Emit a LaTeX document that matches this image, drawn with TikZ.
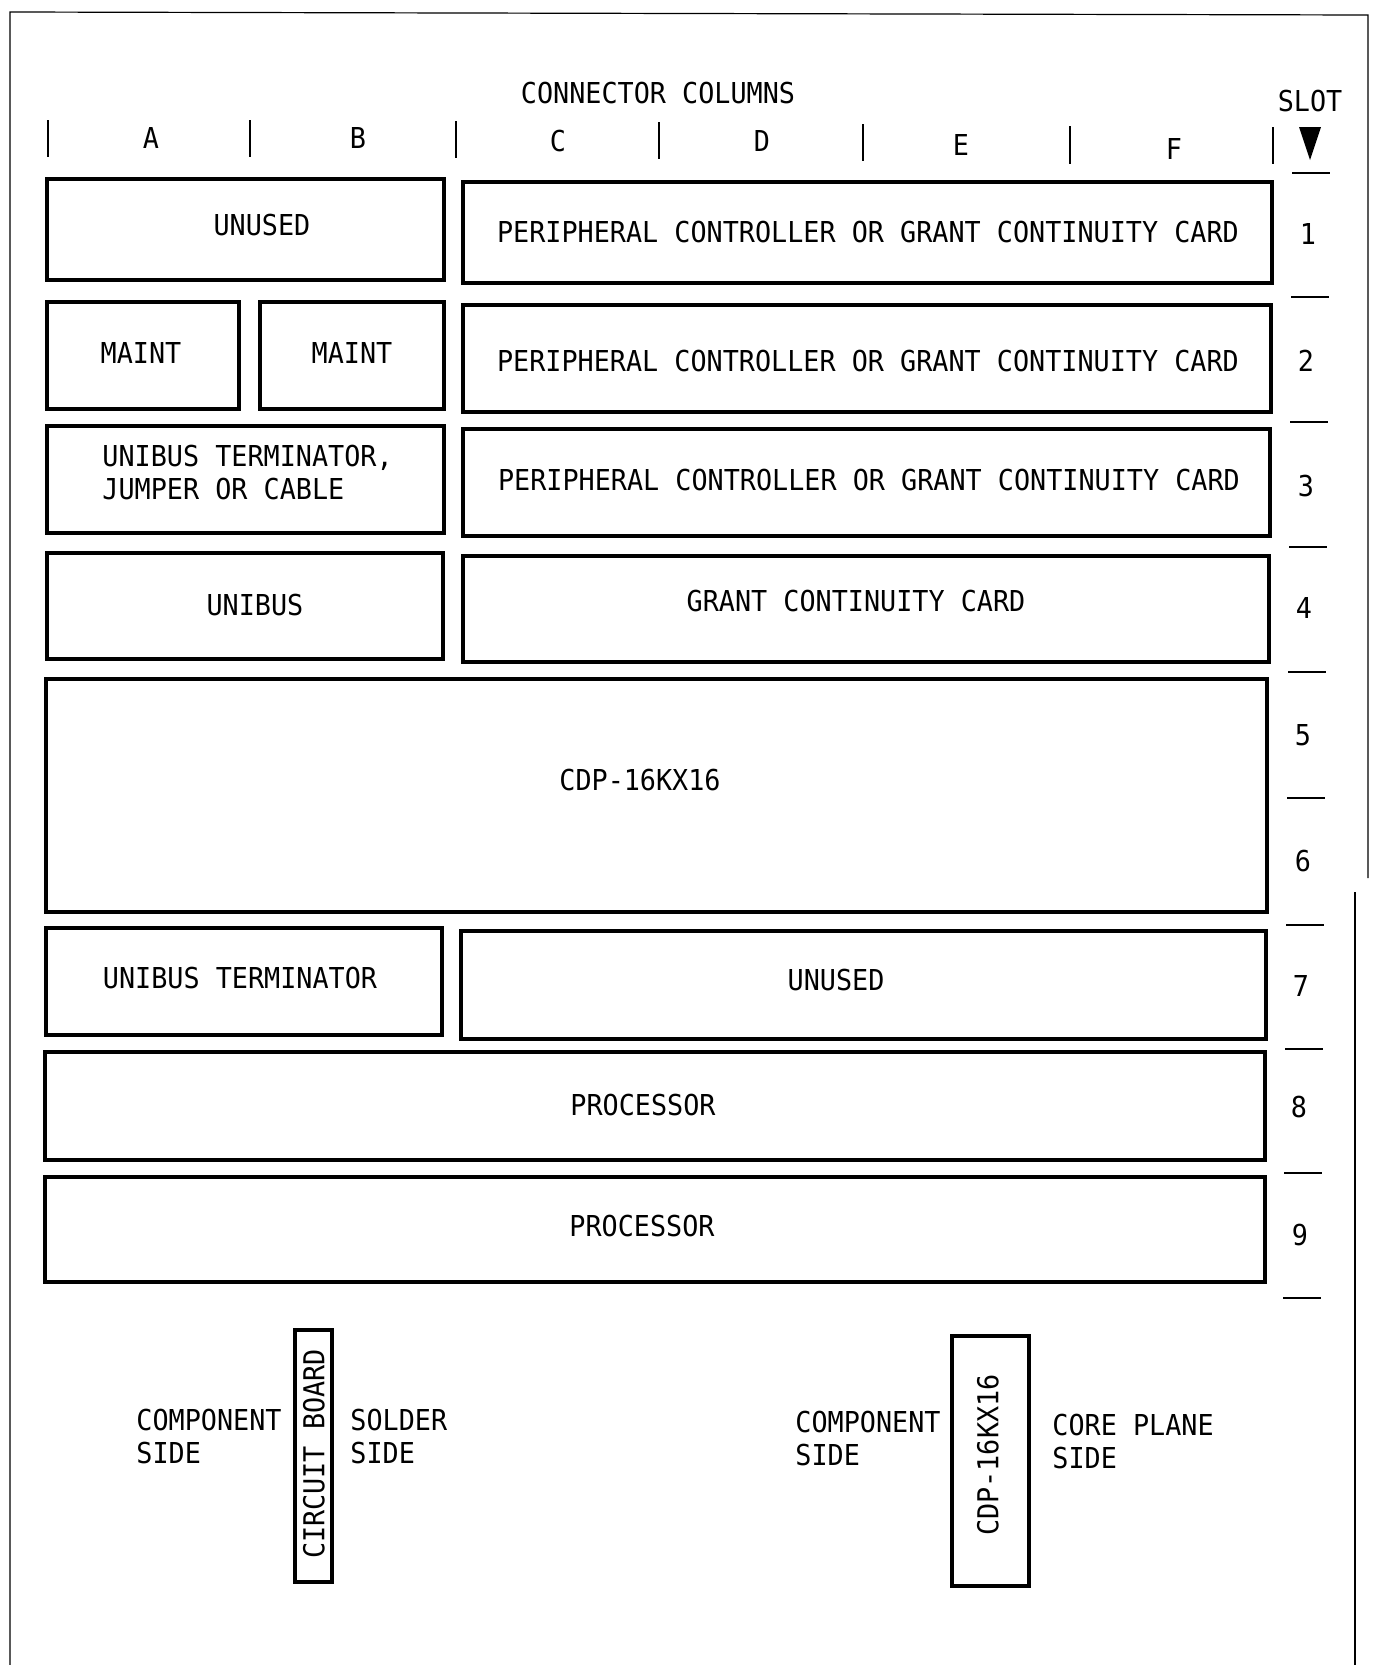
\documentclass[tikz,border=0pt]{standalone}
\usepackage{fontspec}
\usetikzlibrary{fit}
\newfontfamily\lett[FakeStretch=0.93]{DejaVu Sans Mono}
\begin{document}
\begin{tikzpicture}[x=0.5pt,y=-0.5pt,
  card/.style={draw, line width=1.75pt, inner sep=0pt, outer sep=0pt},
  lbl/.style={font=\lett\fontsize{14.4}{16.5}\selectfont, inner sep=0pt},
  tickline/.style={line width=1pt},
  sepline/.style={line width=1pt},
  frameline/.style={line width=0.6pt}]
\useasboundingbox (0,0) rectangle (1378,1665);
% page frame
\draw[frameline] (10,1665) -- (10,12) -- (1368,15) -- (1368,878);
\draw[frameline] (1355,892) -- (1355,1665);
% header
\node[lbl] (hdr) at (658,93) {CONNECTOR COLUMNS};
\node[lbl] (slot) at (1310,101) {SLOT};
\fill (1299,127) -- (1321,127) -- (1310,160) -- cycle;
\foreach \x/\ya/\yb in {48/120/157, 250/120/157, 456/121/158, 659/122/159, 863/124/161, 1070/126/164, 1273/127/164}
  \draw[tickline] (\x,\ya) -- (\x,\yb);
\node[lbl] (colA) at (151,138) {A};
\node[lbl] (colB) at (358,138) {B};
\node[lbl] (colC) at (558,141) {C};
\node[lbl] (colD) at (762,141) {D};
\node[lbl] (colE) at (961,145) {E};
\node[lbl] (colF) at (1174,149) {F};
% slot separators
\foreach \y [count=\k from 0] in {173,297,421.5,547,672,798,925,1049,1173,1298}
  \draw[sepline] (1292-\k,\y) -- (1330-\k,\y);
% slot numbers
\foreach \n/\x/\y in {1/1308/234, 2/1306/361, 3/1306/486, 4/1304/608, 5/1303/735, 6/1303/861, 7/1301/986, 8/1299/1107, 9/1300/1235}
  \node[lbl] (slot\n) at (\x,\y) {\n};
% cards
\node[card, fit={(47,179) (444,280)}] (r1u) {};
\node[card, fit={(463,182) (1272,283)}] (r1p) {};
\node[card, fit={(47,302) (239,409)}] (r2a) {};
\node[card, fit={(260,302) (444,409)}] (r2b) {};
\node[card, fit={(463,305) (1271,412)}] (r2p) {};
\node[card, fit={(47,426) (444,533)}] (r3j) {};
\node[card, fit={(463,429) (1270,536)}] (r3p) {};
\node[card, fit={(47,553) (443,659)}] (r4u) {};
\node[card, fit={(463,556) (1269,662)}] (r4g) {};
\node[card, fit={(46,679) (1267,912)}] (r56) {};
\node[card, fit={(46,928) (442,1035)}] (r7t) {};
\node[card, fit={(461,931) (1266,1039)}] (r7u) {};
\node[card, fit={(45,1052) (1265,1160)}] (r8) {};
\node[card, fit={(45,1177) (1265,1282)}] (r9) {};
% card labels
\node[lbl] (t1u) at (262,225) {UNUSED};
\node[lbl] (t1p) at (868,232) {PERIPHERAL CONTROLLER OR GRANT CONTINUITY CARD};
\node[lbl] (t2a) at (141,353) {MAINT};
\node[lbl] (t2b) at (352,353) {MAINT};
\node[lbl] (t2p) at (868,361) {PERIPHERAL CONTROLLER OR GRANT CONTINUITY CARD};
\node[lbl, align=left, anchor=west] (t3j) at (102,473) {UNIBUS TERMINATOR,\\JUMPER OR CABLE};
\node[lbl] (t3p) at (869,480) {PERIPHERAL CONTROLLER OR GRANT CONTINUITY CARD};
\node[lbl] (t4u) at (255,605) {UNIBUS};
\node[lbl] (t4g) at (856,601) {GRANT CONTINUITY CARD};
\node[lbl] (t56) at (640,780) {CDP-16KX16};
\node[lbl] (t7t) at (240,978) {UNIBUS TERMINATOR};
\node[lbl] (t7u) at (836,980) {UNUSED};
\node[lbl] (t8) at (643,1105) {PROCESSOR};
\node[lbl] (t9) at (642,1226) {PROCESSOR};
% side views
\node[lbl, align=left, anchor=west] (comp1) at (136,1436) {COMPONENT\\SIDE};
\node[card, fit={(295,1330) (332,1582)}] (board) {};
\node[lbl, rotate=90] (boardtxt) at (314,1454) {CIRCUIT BOARD};
\node[lbl, align=left, anchor=west] (solder) at (350,1436) {SOLDER\\SIDE};
\node[lbl, align=left, anchor=west] (comp2) at (795,1438) {COMPONENT\\SIDE};
\node[card, fit={(952,1336) (1029,1586)}] (cdpbox) {};
\node[lbl, rotate=90] (cdptxt) at (988,1455) {CDP-16KX16};
\node[lbl, align=left, anchor=west] (core) at (1052,1441) {CORE PLANE\\SIDE};
\end{tikzpicture}
\end{document}
